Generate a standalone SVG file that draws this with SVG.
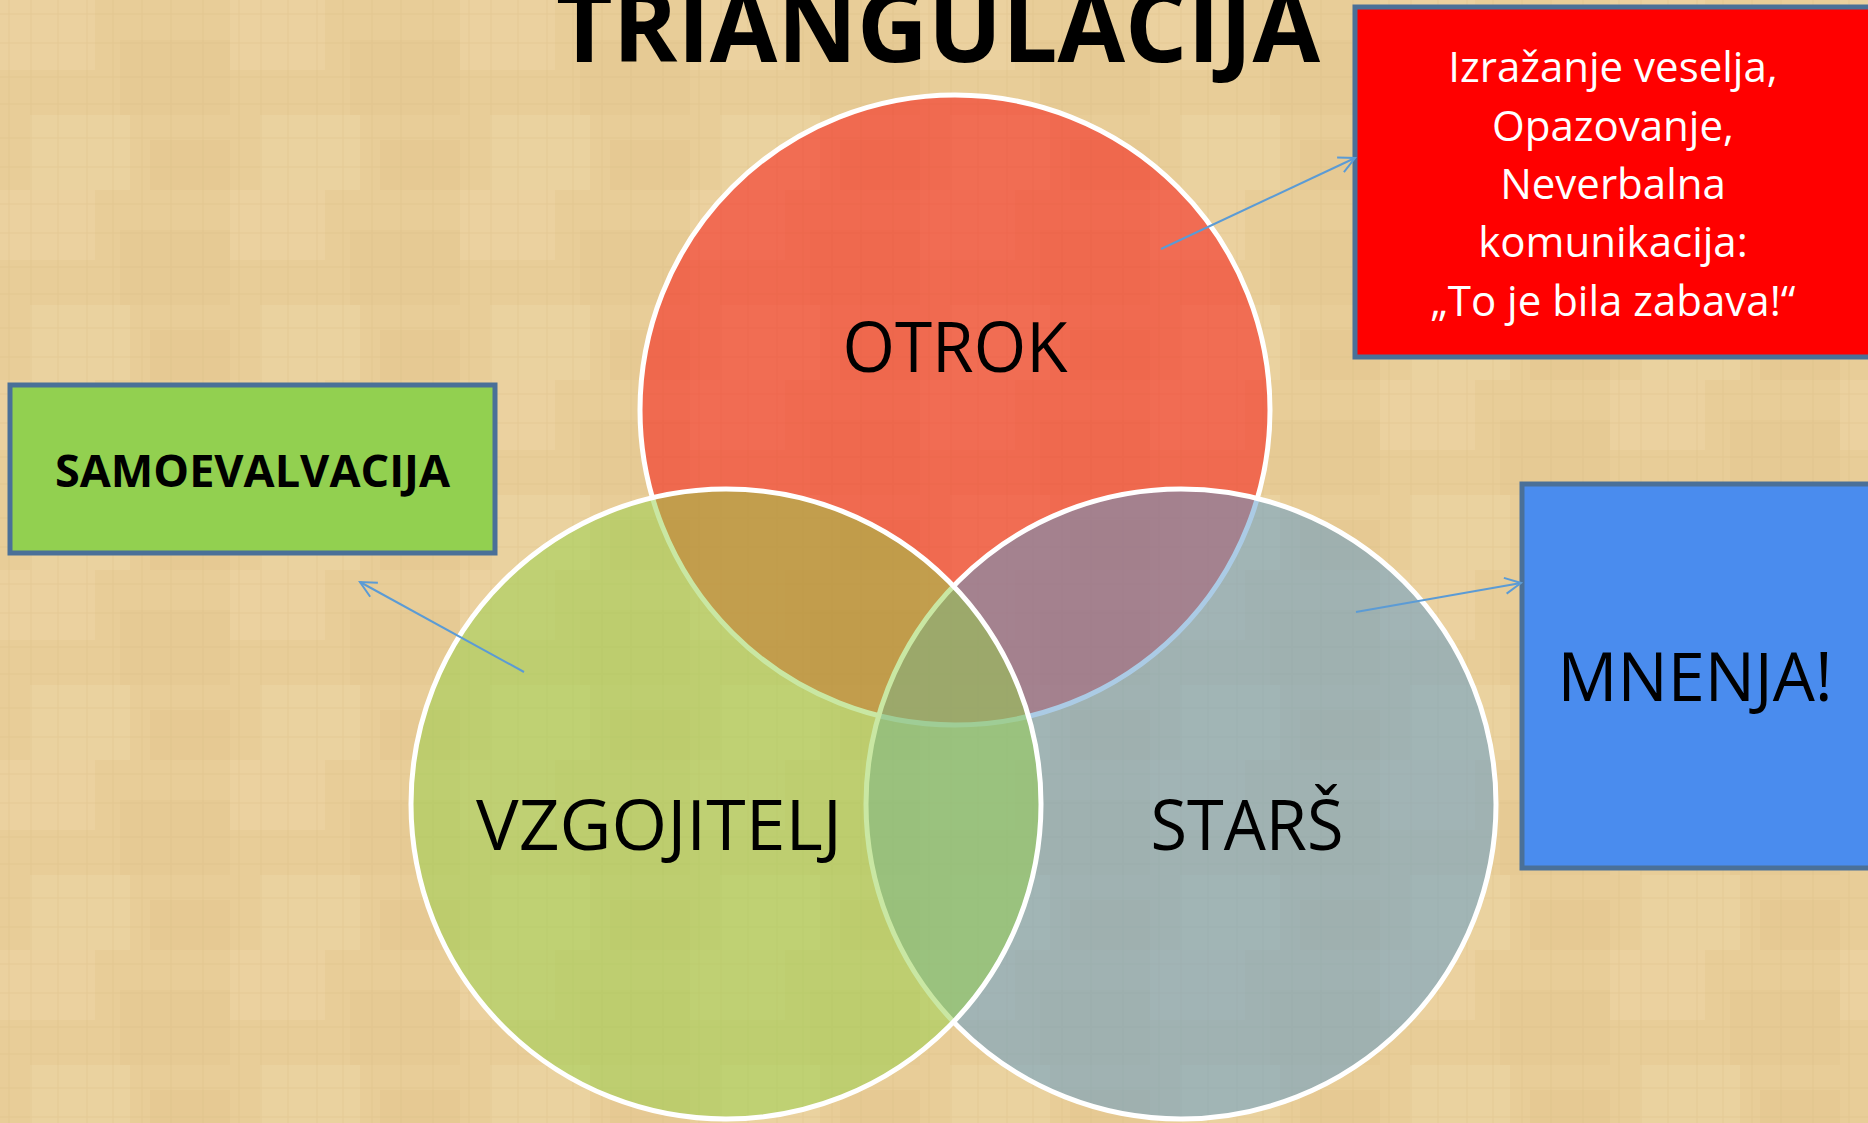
<svg xmlns="http://www.w3.org/2000/svg" width="1868" height="1123" viewBox="0 0 1868 1123">
<style>
  .circ { stroke: #ffffff; stroke-width: 5; fill-opacity: 0.5; }
  .box { stroke: #4A7098; stroke-width: 5; }
  .lbl { font-family: "Open Sans", "Noto Sans", "Liberation Sans", sans-serif; fill: #000; text-anchor: middle; }
  .wht { font-family: "Open Sans", "Noto Sans", "Liberation Sans", sans-serif; fill: #fff; text-anchor: middle; font-size: 42px; }
  .conn { stroke: #5B9BD5; stroke-width: 2; fill: none; }
</style>
<defs>
  <marker id="arr" viewBox="0 0 20 20" refX="18" refY="10" markerWidth="20" markerHeight="20" markerUnits="userSpaceOnUse" orient="auto">
    <path d="M2,2 L18,10 L2,18" fill="none" stroke="#5B9BD5" stroke-width="2"/>
  </marker>
  <pattern id="tex" x="0" y="0" width="230" height="190" patternUnits="userSpaceOnUse">
    <rect width="230" height="190" fill="#E8CD98"/>
    <rect x="0" y="0" width="95" height="70" fill="#EDD5A5" opacity="0.5"/>
    <rect x="120" y="40" width="110" height="75" fill="#E3C68E" opacity="0.4"/>
    <rect x="30" y="115" width="100" height="75" fill="#EDD7A8" opacity="0.45"/>
    <rect x="150" y="140" width="80" height="50" fill="#E1C38A" opacity="0.35"/>
    <g stroke="#D9BA82" stroke-width="1" opacity="0.35">
      <line x1="9" y1="0" x2="9" y2="190"/>
      <line x1="31" y1="0" x2="31" y2="190"/>
      <line x1="58" y1="0" x2="58" y2="190"/>
      <line x1="87" y1="0" x2="87" y2="190"/>
      <line x1="113" y1="0" x2="113" y2="190"/>
      <line x1="142" y1="0" x2="142" y2="190"/>
      <line x1="171" y1="0" x2="171" y2="190"/>
      <line x1="203" y1="0" x2="203" y2="190"/>
      <line x1="0" y1="14" x2="230" y2="14"/>
      <line x1="0" y1="43" x2="230" y2="43"/>
      <line x1="0" y1="77" x2="230" y2="77"/>
      <line x1="0" y1="104" x2="230" y2="104"/>
      <line x1="0" y1="138" x2="230" y2="138"/>
      <line x1="0" y1="167" x2="230" y2="167"/>
    </g>
  </pattern>
</defs>
<rect width="1868" height="1123" fill="url(#tex)"/>

<text id="title" class="lbl" x="938" y="62" font-size="100" font-weight="bold" textLength="764" lengthAdjust="spacingAndGlyphs">TRIANGULACIJA</text>

<g id="otrok">
  <circle class="circ" cx="955" cy="410" r="315" fill="#F80808"/>
  <text class="lbl" x="955" y="372" font-size="70" textLength="225" lengthAdjust="spacingAndGlyphs">OTROK</text>
</g>
<g id="stars">
  <circle class="circ" cx="1181" cy="804" r="315" fill="#5898CC"/>
  <text class="lbl" x="1247" y="850" font-size="70" textLength="193" lengthAdjust="spacingAndGlyphs">STARŠ</text>
</g>
<g id="vzgojitelj">
  <circle class="circ" cx="726" cy="804" r="315" fill="#94D048"/>
  <text class="lbl" x="659" y="850" font-size="70" textLength="366" lengthAdjust="spacingAndGlyphs">VZGOJITELJ</text>
</g>

<g id="samoevalvacija">
  <rect class="box" x="10" y="385" width="485" height="168" fill="#92D050"/>
  <text class="lbl" x="252.5" y="487" font-size="44" font-weight="bold" textLength="395" lengthAdjust="spacingAndGlyphs">SAMOEVALVACIJA</text>
</g>

<g id="otrok-note">
  <rect class="box" x="1355" y="7" width="520" height="350" fill="#FF0000"/>
  <text class="wht" x="1613" y="82">Izražanje veselja,</text>
  <text class="wht" x="1613" y="141">Opazovanje,</text>
  <text class="wht" x="1613" y="199">Neverbalna</text>
  <text class="wht" x="1613" y="257">komunikacija:</text>
  <text class="wht" x="1613" y="316">„To je bila zabava!“</text>
</g>

<g id="mnenja">
  <rect class="box" x="1522" y="484" width="360" height="384" fill="#4A8CEE"/>
  <text class="lbl" x="1695" y="701" font-size="68" textLength="275" lengthAdjust="spacingAndGlyphs">MNENJA!</text>
</g>

<g id="connectors">
  <line class="conn" x1="1161" y1="249" x2="1355" y2="158" marker-end="url(#arr)"/>
  <line class="conn" x1="524" y1="672" x2="360" y2="582" marker-end="url(#arr)"/>
  <line class="conn" x1="1356" y1="612" x2="1521" y2="583" marker-end="url(#arr)"/>
</g>
</svg>
